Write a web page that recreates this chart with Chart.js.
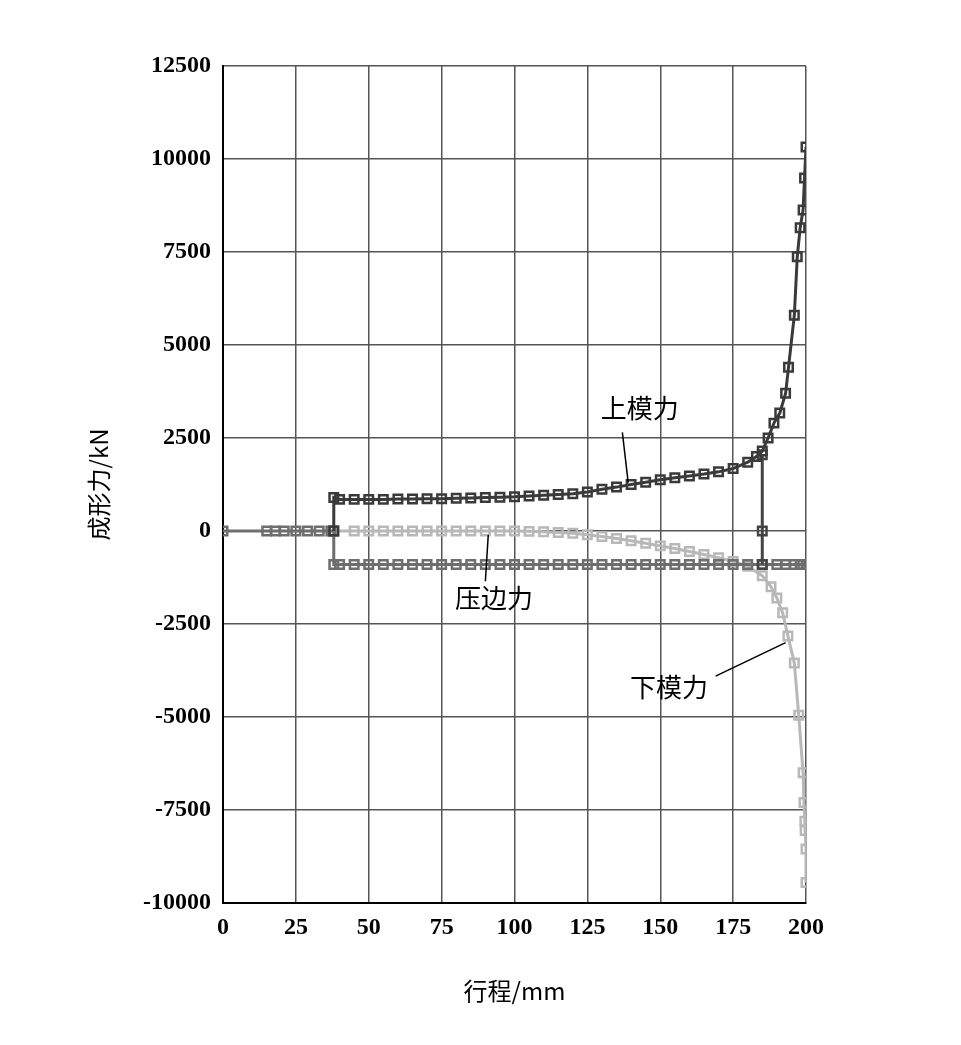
<!DOCTYPE html>
<html><head><meta charset="utf-8">
<script src="https://cdn.jsdelivr.net/npm/chart.js@4"></script>
<style>body{margin:0;background:#fff}#wrap{width:961px;height:1045px}</style>
</head><body><div id="wrap"><canvas id="c"></canvas></div>
<script>
// Stroke (mm) and force (kN)
const upperX = [38, 38, 40, 45, 50, 55, 60, 65, 70, 75, 80, 85, 90, 95, 100, 105, 110, 115, 120, 125, 130, 135, 140, 145, 150, 155, 160, 165, 170, 175, 180, 183, 185, 187, 189, 191, 193, 194, 196, 197, 198, 199, 199.5, 200];
const upperY = [0, 900, 850, 850, 850, 850, 860, 860, 870, 870, 880, 890, 900, 910, 920, 940, 960, 980, 1000, 1050, 1120, 1180, 1250, 1310, 1380, 1430, 1480, 1530, 1590, 1680, 1850, 2000, 2150, 2500, 2900, 3170, 3700, 4400, 5800, 7370, 8150, 8630, 9490, 10320];
const binderX = [0, 15, 18, 21, 25, 29, 33, 37, 38, 38, 40, 45, 50, 55, 60, 65, 70, 75, 80, 85, 90, 95, 100, 105, 110, 115, 120, 125, 130, 135, 140, 145, 150, 155, 160, 165, 170, 175, 180, 185, 190, 193, 196, 198, 200];
const binderY = [0, 0, 0, 0, 0, 0, 0, 0, 0, -900, -900, -900, -900, -900, -900, -900, -900, -900, -900, -900, -900, -900, -900, -900, -900, -900, -900, -900, -900, -900, -900, -900, -900, -900, -900, -900, -900, -900, -900, -900, -900, -900, -900, -900, -900];
const stepX = [185, 185, 185];
const stepY = [2050, 0, -900];
const lowerX = [38, 45, 50, 55, 60, 65, 70, 75, 80, 85, 90, 95, 100, 105, 110, 115, 120, 125, 130, 135, 140, 145, 150, 155, 160, 165, 170, 175, 180, 185, 188, 190, 192, 193.8, 196, 197.5, 199, 199.3, 199.6, 199.7, 200, 200];
const lowerY = [0, 0, 0, 0, 0, 0, 0, 0, 0, 0, 0, 0, 0, -10, -20, -40, -60, -100, -150, -200, -260, -330, -400, -470, -550, -630, -720, -820, -950, -1200, -1500, -1800, -2200, -2820, -3550, -4950, -6500, -7300, -7800, -8050, -8550, -9450];
const yTicks = [12500, 10000, 7500, 5000, 2500, 0, -2500, -5000, -7500, -10000];
const notes = [
  { text: '上模力', at: [143, 3300], from: [137, 2650], to: [139, 1300] },
  { text: '压边力', at: [93, -1800], from: [90, -1350], to: [91, -100] },
  { text: '下模力', at: [153, -4200], from: [169, -3900], to: [193, -3000] }
];

const pts = (xs, ys) => xs.map((x, i) => ({ x, y: ys[i] }));
const ser = (xs, ys, color, z) => ({
  data: pts(xs, ys), borderColor: color, backgroundColor: 'rgba(255,255,255,0)',
  showLine: true, borderWidth: 3, pointStyle: 'rect', pointRadius: 6,
  pointBorderWidth: 2.5, pointBorderColor: color, order: z
});
const font = { family: 'Liberation Serif', size: 24, weight: 'bold' };
const plain = v => String(v);

const notePlugin = {
  id: 'notes',
  afterDatasetsDraw(chart) {
    const { ctx, scales: { x, y } } = chart;
    ctx.save();
    ctx.strokeStyle = '#000'; ctx.lineWidth = 1.5; ctx.fillStyle = '#000';
    ctx.font = '26px "Noto Sans CJK SC"'; ctx.textAlign = 'center'; ctx.textBaseline = 'middle';
    notes.forEach(n => {
      ctx.beginPath();
      ctx.moveTo(x.getPixelForValue(n.from[0]), y.getPixelForValue(n.from[1]));
      ctx.lineTo(x.getPixelForValue(n.to[0]), y.getPixelForValue(n.to[1]));
      ctx.stroke();
      ctx.fillText(n.text, x.getPixelForValue(n.at[0]), y.getPixelForValue(n.at[1]));
    });
    ctx.restore();
  }
};

new Chart(document.getElementById('c'), {
  type: 'scatter',
  data: { datasets: [
    ser(lowerX, lowerY, '#b8b8b8', 3),
    ser(binderX, binderY, '#6e6e6e', 2),
    ser(stepX, stepY, '#444', 1),
    ser(upperX, upperY, '#3a3a3a', 0)
  ] },
  options: {
    responsive: true, maintainAspectRatio: false, animation: false,
    layout: { padding: { left: 84, right: 155, top: 66, bottom: 40 } },
    plugins: { legend: { display: false }, tooltip: { enabled: false } },
    scales: {
      x: {
        type: 'linear', min: 0, max: 200,
        afterFit: s => { s.height = 102; },
        ticks: { stepSize: 25, color: '#000', font, padding: 10, callback: plain },
        grid: { color: '#555', lineWidth: 1.5, drawTicks: false },
        border: { color: '#000', width: 2 },
        title: { display: true, text: '行程/mm', color: '#000', font: { family: 'Noto Sans CJK SC', size: 24 }, padding: 0 }
      },
      y: {
        type: 'linear', min: -10000, max: 12500,
        afterFit: s => { s.width = 139; },
        afterBuildTicks: s => { s.ticks = yTicks.map(v => ({ value: v })); },
        ticks: { color: '#000', font, padding: 12, callback: plain },
        grid: { color: '#555', lineWidth: 1.5, drawTicks: false },
        border: { color: '#000', width: 2 },
        title: { display: true, text: '成形力/kN', color: '#000', font: { family: 'Noto Sans CJK SC', size: 24 }, padding: 0 }
      }
    }
  },
  plugins: [notePlugin]
});
</script></body></html>
